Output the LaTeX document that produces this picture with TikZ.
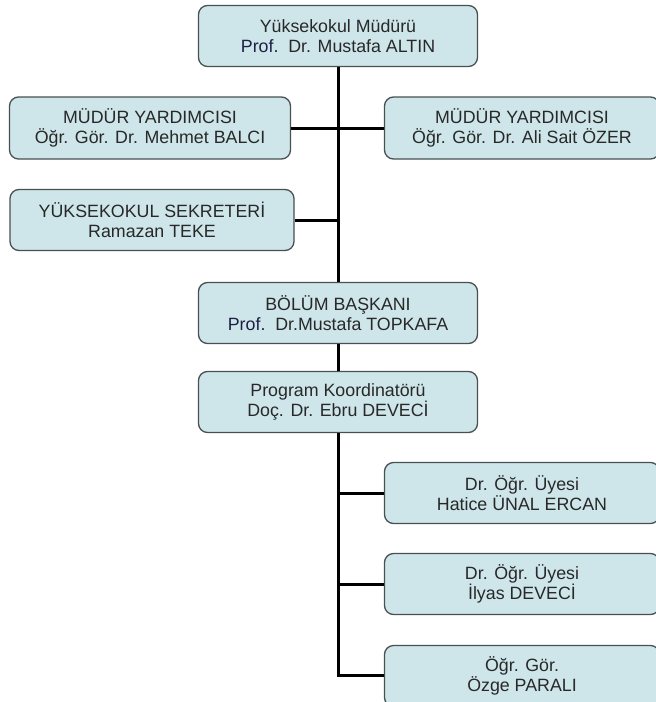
\documentclass[tikz,border=0pt]{standalone}
\usepackage{fontspec}
\setmainfont{Liberation Sans}
\definecolor{boxfill}{RGB}{206,230,234}
\definecolor{boxline}{RGB}{72,80,82}
\definecolor{txt}{RGB}{40,40,40}
\definecolor{prof}{RGB}{30,30,70}
\begin{document}
\begin{tikzpicture}[x=1pt,y=-1pt,
  orgbox/.style={draw=boxline,line width=1.3pt,fill=boxfill,rounded corners=9pt,
    align=center,font=\fontsize{17.8}{19.5}\selectfont,text=txt,inner sep=0pt},
  wide/.style={orgbox,minimum width=279pt,minimum height=61pt},
  link/.style={line width=3pt,black}]
\useasboundingbox (0,0) rectangle (656,702);
\node[wide] (top) at (338,36) {Yüksekokul Müdürü\\{\color{prof}Prof.}\ \ Dr. Mustafa ALTIN};
\node[orgbox,minimum width=281pt,minimum height=62pt] (lmy) at (150,128) {MÜDÜR YARDIMCISI\\Öğr. Gör. Dr. Mehmet BALCI};
\node[orgbox,minimum width=275pt,minimum height=62pt] (rmy) at (522,128) {MÜDÜR YARDIMCISI\\Öğr. Gör. Dr. Ali Sait ÖZER};
\node[orgbox,minimum width=284pt,minimum height=61pt] (sek) at (152,220) {YÜKSEKOKUL SEKRETERİ\\Ramazan TEKE};
\node[wide] (bol) at (338,313) {BÖLÜM BAŞKANI\\{\color{prof}Prof.}\ \ Dr.Mustafa TOPKAFA};
\node[wide] (prog) at (338,402) {Program Koordinatörü\\Doç. Dr. Ebru DEVECİ};
\node[orgbox,minimum width=275pt,minimum height=61pt] (l1) at (522,493) {Dr. Öğr. Üyesi\\Hatice ÜNAL ERCAN};
\node[orgbox,minimum width=275pt,minimum height=61pt] (l2) at (522,584) {Dr. Öğr. Üyesi\\İlyas DEVECİ};
\node[orgbox,minimum width=275pt,minimum height=61pt] (l3) at (522,676) {Öğr. Gör.\\Özge PARALI};
\coordinate (bend) at (338,675);
\draw[link] (top.south) -- (bol.north);
\draw[link] (lmy.east) -- (rmy.west);
\draw[link] (sek.east) -- (sek.east -| top.south);
\draw[link] (bol.south) -- (prog.north);
\draw[link] (prog.south) -- (bend) -- (bend -| l3.west);
\draw[link] (l1.west) -- (l1.west -| bend);
\draw[link] (l2.west) -- (l2.west -| bend);
\end{tikzpicture}
\end{document}
